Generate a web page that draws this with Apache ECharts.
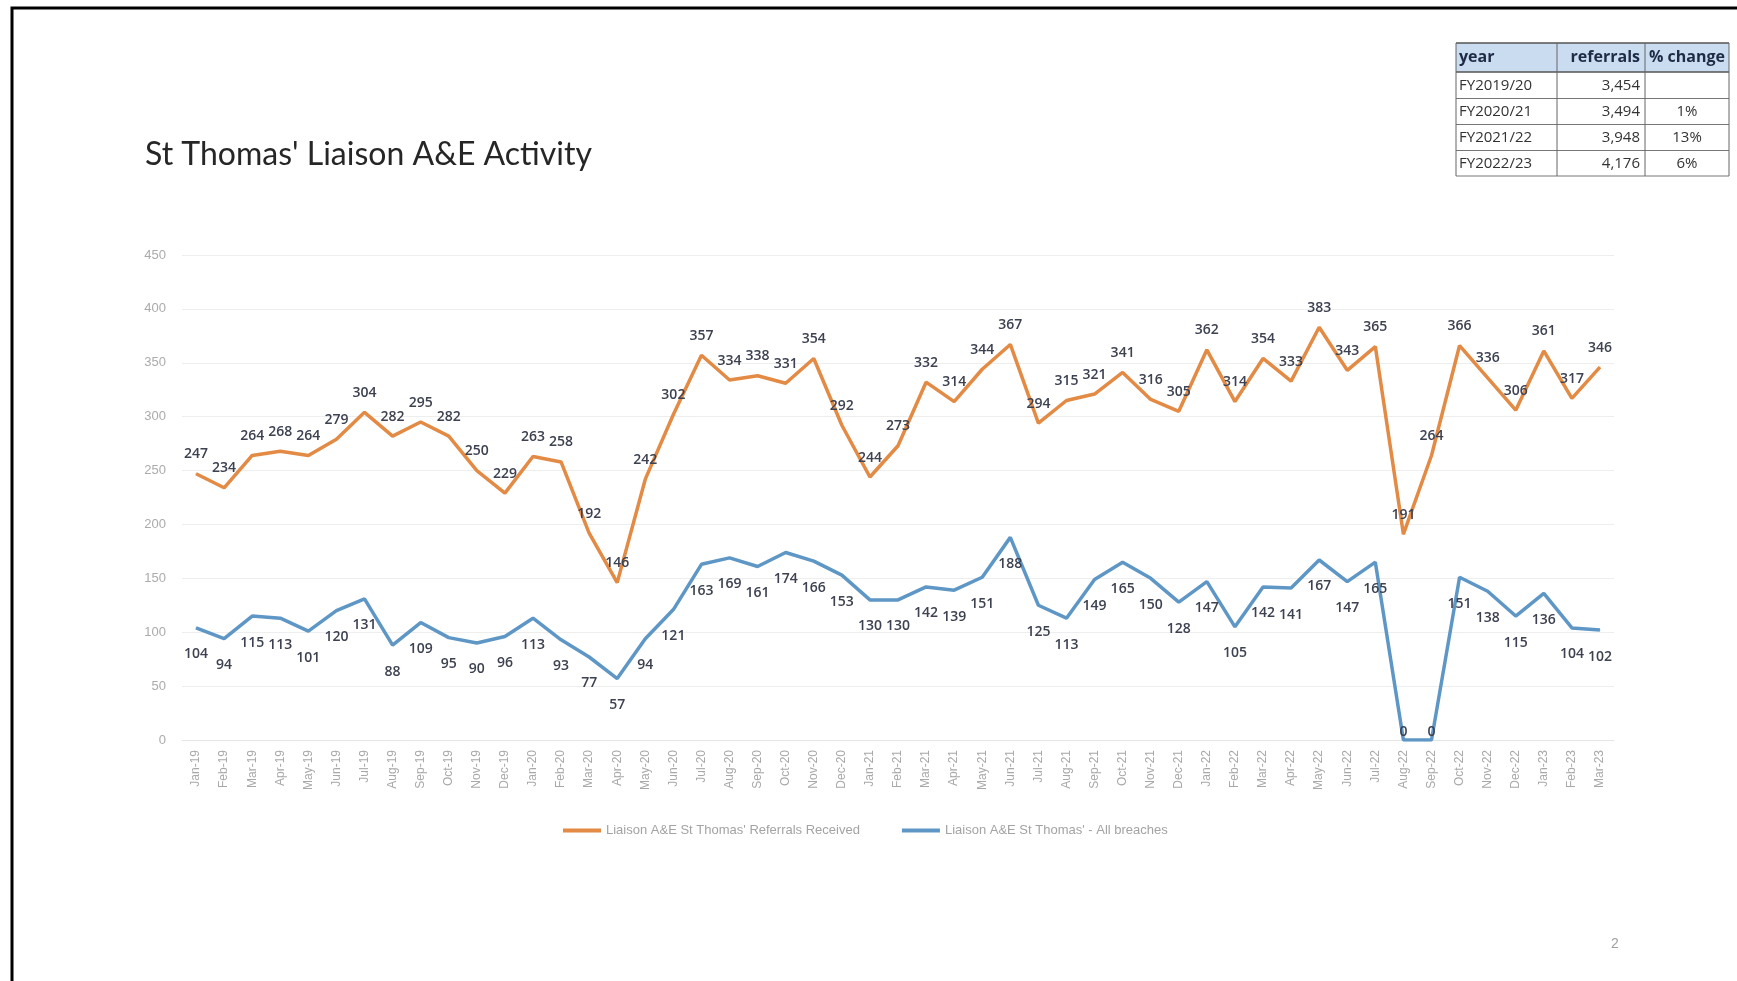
<!DOCTYPE html>
<html>
<head>
<meta charset="utf-8">
<script src="https://cdn.jsdelivr.net/npm/echarts@6/dist/echarts.min.js"></script>
<style>
html,body{margin:0;padding:0;background:#fff;}
#chart{width:1737px;height:981px;}
</style>
</head>
<body>
<div id="chart"></div>
<script>
const categories = ['Jan-19','Feb-19','Mar-19','Apr-19','May-19','Jun-19','Jul-19','Aug-19','Sep-19','Oct-19','Nov-19','Dec-19',
  'Jan-20','Feb-20','Mar-20','Apr-20','May-20','Jun-20','Jul-20','Aug-20','Sep-20','Oct-20','Nov-20','Dec-20',
  'Jan-21','Feb-21','Mar-21','Apr-21','May-21','Jun-21','Jul-21','Aug-21','Sep-21','Oct-21','Nov-21','Dec-21',
  'Jan-22','Feb-22','Mar-22','Apr-22','May-22','Jun-22','Jul-22','Aug-22','Sep-22','Oct-22','Nov-22','Dec-22',
  'Jan-23','Feb-23','Mar-23'];
const referrals = [247,234,264,268,264,279,304,282,295,282,250,229,
  263,258,192,146,242,302,357,334,338,331,354,292,
  244,273,332,314,344,367,294,315,321,341,316,305,
  362,314,354,333,383,343,365,191,264,366,336,306,
  361,317,346];
const breaches = [104,94,115,113,101,120,131,88,109,95,90,96,
  113,93,77,57,94,121,163,169,161,174,166,153,
  130,130,142,139,151,188,125,113,149,165,150,128,
  147,105,142,141,167,147,165,0,0,151,138,115,
  136,104,102];
const seriesNames = ["Liaison A&E St Thomas' Referrals Received", "Liaison A&E St Thomas' - All breaches"];
const titleText = "St Thomas' Liaison A&E Activity";
const tableHeader = ['year','referrals','% change'];
const tableYears = ['FY2019/20','FY2020/21','FY2021/22','FY2022/23'];
const tableReferrals = ['3,454','3,494','3,948','4,176'];
const tableChange = ['','1%','13%','6%'];
const pageNumber = '2';

const chart = echarts.init(document.getElementById('chart'));

const colX = [1456, 1557, 1645, 1729];
const rowY = [43, 72, 98.5, 124.5, 150.5, 176];
const tableEls = [];
tableEls.push({type:'rect', shape:{x:colX[0], y:rowY[0], width:colX[3]-colX[0], height:rowY[1]-rowY[0]}, style:{fill:'#c9dcf0'}});
const rows = [tableHeader].concat(tableYears.map((y,i)=>[y, tableReferrals[i], tableChange[i]]));
for (let r=0; r<rows.length; r++) {
  const cy = (rowY[r]+rowY[r+1])/2;
  const bold = r===0;
  const fs = bold ? 16 : 15;
  const col = bold ? '#1f2a44' : '#333';
  const fw = bold ? 'bold' : 'normal';
  tableEls.push({type:'text', style:{text:rows[r][0], x:colX[0]+3, y:cy, textAlign:'left', textVerticalAlign:'middle', font:fw+' '+fs+'px "Open Sans", sans-serif', fill:col}});
  tableEls.push({type:'text', style:{text:rows[r][1], x:colX[2]-5, y:cy, textAlign:'right', textVerticalAlign:'middle', font:fw+' '+fs+'px "Open Sans", sans-serif', fill:col}});
  tableEls.push({type:'text', style:{text:rows[r][2], x:(colX[2]+colX[3])/2, y:cy, textAlign:'center', textVerticalAlign:'middle', font:fw+' '+fs+'px "Open Sans", sans-serif', fill:col}});
}
for (let r=0; r<rowY.length; r++) {
  tableEls.push({type:'line', shape:{x1:colX[0], y1:rowY[r], x2:colX[3], y2:rowY[r]}, style:{stroke:(r===0||r===1)?'#555':'#777', lineWidth:(r===0||r===1)?1.5:1}});
}
for (let c=0; c<colX.length; c++) {
  tableEls.push({type:'line', shape:{x1:colX[c], y1:rowY[0], x2:colX[c], y2:rowY[rowY.length-1]}, style:{stroke:'#666', lineWidth:1}});
}

const orange = '#E38A45';
const blue = '#5E97C5';

// labels that would fall below the plot area are kept inside it (as the spreadsheet does)
const breachData = breaches.map(v => v < 20 ? {value: v, label: {position: 'top', distance: 0}} : v);

const option = {
  animation: false,
  backgroundColor: '#fff',
  textStyle: {fontFamily: '"Open Sans", sans-serif'},
  grid: {left: 182, right: 123, top: 255, bottom: 241, containLabel: false},
  legend: {
    left: 558, top: 819,
    itemWidth: 38, itemHeight: 4, itemGap: 42, icon: 'rect',
    textStyle: {fontSize: 13, color: '#a3a3a3', fontFamily: '"Liberation Sans", sans-serif'},
    data: [
      {name: seriesNames[0], icon: 'rect', itemStyle: {color: orange}},
      {name: seriesNames[1], icon: 'rect', itemStyle: {color: blue}}
    ]
  },
  xAxis: {
    type: 'category',
    data: categories,
    boundaryGap: true,
    axisLine: {show: true, lineStyle: {color: '#e6e6e6'}},
    axisTick: {show: false},
    axisLabel: {rotate: 90, interval: 0, fontSize: 12, color: '#a8a8a8', margin: 10, fontFamily: '"Liberation Sans", sans-serif'}
  },
  yAxis: {
    type: 'value', min: 0, max: 450, interval: 50,
    axisLine: {show: false}, axisTick: {show: false},
    axisLabel: {fontSize: 13, color: '#ababab', margin: 16, fontFamily: '"Liberation Sans", sans-serif'},
    splitLine: {lineStyle: {color: '#eeeeee', width: 1}}
  },
  series: [
    {
      name: seriesNames[0], type: 'line', data: referrals,
      symbol: 'circle', symbolSize: 1, showSymbol: true,
      itemStyle: {color: orange},
      lineStyle: {color: orange, width: 3.5},
      label: {show: true, position: 'top', distance: 12, fontSize: 14, fontWeight: 600, color: '#3d4150', fontFamily: '"Open Sans", sans-serif'},
      labelLayout: {hideOverlap: false},
      z: 3
    },
    {
      name: seriesNames[1], type: 'line', data: breachData,
      symbol: 'circle', symbolSize: 1, showSymbol: true,
      itemStyle: {color: blue},
      lineStyle: {color: blue, width: 3.5},
      label: {show: true, position: 'bottom', distance: 19, fontSize: 14, fontWeight: 600, color: '#3d4150', fontFamily: '"Open Sans", sans-serif'},
      labelLayout: {hideOverlap: false},
      z: 3
    }
  ],
  graphic: [
    {type:'rect', shape:{x:12, y:8, width:1800, height:1100}, style:{fill:'none', stroke:'#000', lineWidth:3}, silent:true},
    {type:'text', style:{text:titleText, x:145, y:155, textVerticalAlign:'middle', font:'32px Lato, sans-serif', fill:'#262626'}},
    {type:'text', style:{text:pageNumber, x:1615, y:944, textAlign:'center', textVerticalAlign:'middle', font:'14px "Liberation Sans", sans-serif', fill:'#a0a0a0'}}
  ].concat(tableEls)
};
chart.setOption(option);
</script>
</body>
</html>
